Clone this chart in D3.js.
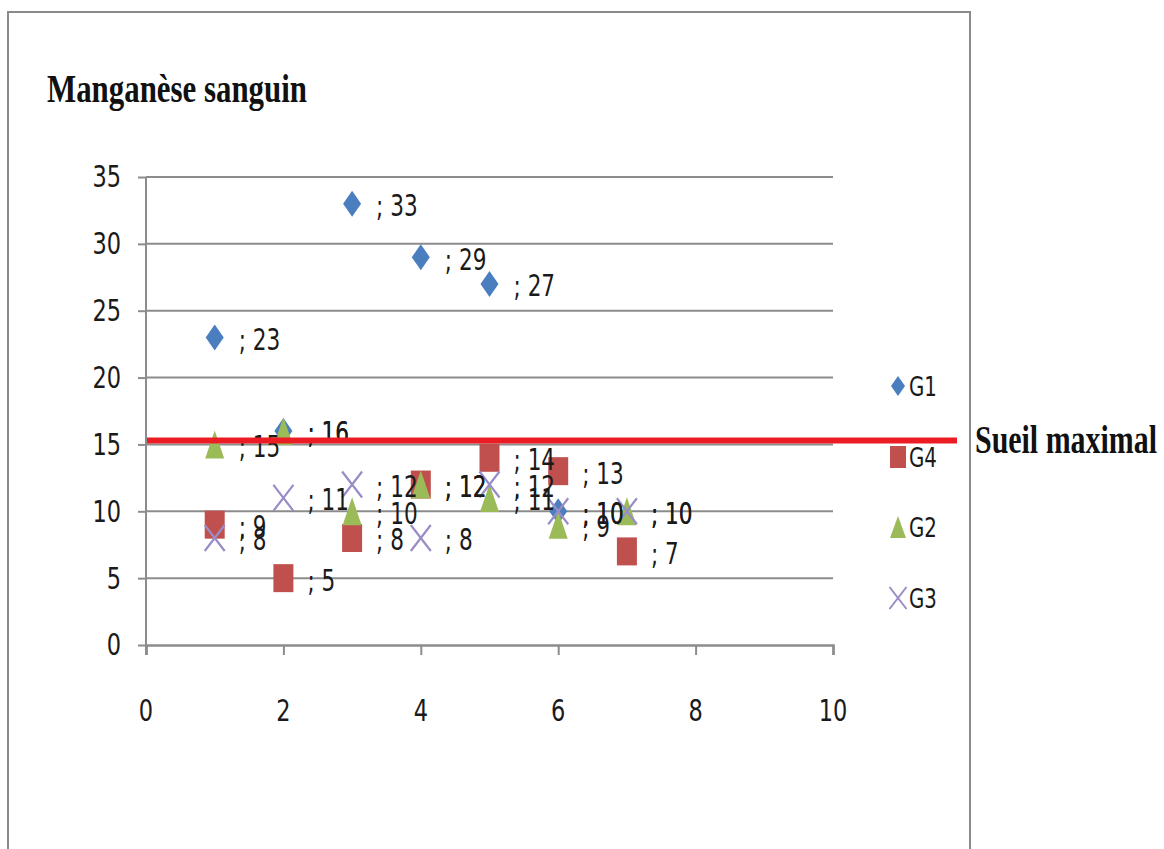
<!DOCTYPE html>
<html>
<head>
<meta charset="utf-8">
<script src="https://cdn.jsdelivr.net/npm/d3@7"></script>
<style>
  html, body { margin: 0; padding: 0; background: #fff; }
  svg { display: block; }
</style>
</head>
<body>
<svg id="chart" width="1164" height="849"></svg>
<script>
// ---- data ----
const title = "Manganèse sanguin";
const thresholdLabel = "Sueil maximal";
const threshold = 15.3;
const xTicks = [0, 2, 4, 6, 8, 10];
const yTicks = [0, 5, 10, 15, 20, 25, 30, 35];
const g1X = [1, 2, 3, 4, 5, 6];
const g1Y = [23, 16, 33, 29, 27, 10];
const g4X = [1, 2, 3, 4, 5, 6, 7];
const g4Y = [9, 5, 8, 12, 14, 13, 7];
const g2X = [1, 2, 3, 4, 5, 6, 7];
const g2Y = [15, 16, 10, 12, 11, 9, 10];
const g3X = [1, 2, 3, 4, 5, 6, 7];
const g3Y = [8, 11, 12, 8, 12, 10, 10];
const seriesNames = ["G1", "G4", "G2", "G3"];

// ---- setup ----
const svg = d3.select("#chart");
const x = d3.scaleLinear().domain([0, 10]).range([146, 833]);
const y = d3.scaleLinear().domain([0, 35]).range([645, 177]);
const SY = 1.22; // vertical stretch of the reference
const sansFont = "'Liberation Sans Narrow', 'DejaVu Sans Condensed', 'Liberation Sans', sans-serif";
const serifFont = "'Liberation Serif', 'DejaVu Serif', serif";

function stretchedText(parent, tx, ty, str, opts) {
  const g = parent.append("g").attr("transform", `translate(${tx},${ty}) scale(1,${opts.sy || SY})`);
  const t = g.append("text")
    .attr("x", 0).attr("y", 0)
    .attr("dominant-baseline", "central")
    .attr("text-anchor", opts.anchor || "start")
    .attr("font-family", opts.font || sansFont)
    .attr("font-size", opts.size || 24)
    .attr("font-weight", opts.weight || "normal")
    .attr("fill", opts.fill || "#1a1a1a")
    .text(str);
  if (opts.textLength) t.attr("textLength", opts.textLength).attr("lengthAdjust", "spacingAndGlyphs");
  return t;
}

// outer frame
svg.append("rect").attr("x", 8).attr("y", 12).attr("width", 962).attr("height", 860)
  .attr("fill", "none").attr("stroke", "#8a8a8a").attr("stroke-width", 2);

// title
stretchedText(svg, 47, 88, title, {font: serifFont, size: 31, weight: "bold", sy: 1.32, fill: "#111", textLength: 260});

// gridlines
svg.append("g").selectAll("line").data(yTicks.filter(d => d > 0)).join("line")
  .attr("x1", x(0)).attr("x2", x(10))
  .attr("y1", d => y(d)).attr("y2", d => y(d))
  .attr("stroke", "#8c8c8c").attr("stroke-width", 2);

// y axis
const yAxis = d3.axisLeft(y).tickValues(yTicks).tickSize(8).tickFormat("");
const yG = svg.append("g").attr("transform", `translate(${x(0)},0)`).call(yAxis);
yG.select(".domain").remove();
yG.selectAll(".tick line").attr("stroke", "#8c8c8c").attr("stroke-width", 2);
svg.append("line").attr("x1", x(0)).attr("x2", x(0)).attr("y1", y(35)).attr("y2", y(0) + 10)
  .attr("stroke", "#8c8c8c").attr("stroke-width", 2);
yTicks.forEach(v => stretchedText(svg, 121, y(v), String(v), {anchor: "end", size: 25}));

// x axis
const xAxis = d3.axisBottom(x).tickValues(xTicks).tickSize(10).tickFormat("");
const xG = svg.append("g").attr("transform", `translate(0,${y(0)})`).call(xAxis);
xG.select(".domain").attr("stroke", "#8c8c8c").attr("stroke-width", 2.5);
xG.selectAll(".tick line").attr("stroke", "#8c8c8c").attr("stroke-width", 2);
xTicks.forEach(v => stretchedText(svg, x(v), 711, String(v), {anchor: "middle", size: 25}));

// marker shapes (vertically stretched like the reference)
const shapes = {
  G1: {color: "#4a7ebf", path: (w=18, h=26) => `M0,${-h/2}L${w/2},0L0,${h/2}L${-w/2},0Z`, fill: true},
  G4: {color: "#c0504d", path: (w=20, h=28) => `M${-w/2},${-h/2}H${w/2}V${h/2}H${-w/2}Z`, fill: true},
  G2: {color: "#9bbb59", path: (w=19, h=28) => `M0,${-h/2}L${w/2},${h/2}H${-w/2}Z`, fill: true},
  G3: {color: "#9a8cc6", path: (w=20, h=26) => `M${-w/2},${-h/2}L${w/2},${h/2}M${w/2},${-h/2}L${-w/2},${h/2}`, fill: false}
};

const seriesData = {
  G1: g1X.map((d, i) => ({x: d, y: g1Y[i]})),
  G4: g4X.map((d, i) => ({x: d, y: g4Y[i]})),
  G2: g2X.map((d, i) => ({x: d, y: g2Y[i]})),
  G3: g3X.map((d, i) => ({x: d, y: g3Y[i]}))
};

const marksG = svg.append("g");
seriesNames.forEach(name => {
  const s = shapes[name];
  marksG.append("g").selectAll("path").data(seriesData[name]).join("path")
    .attr("transform", d => `translate(${x(d.x)},${y(d.y)})`)
    .attr("d", s.path())
    .attr("fill", s.fill ? s.color : "none")
    .attr("stroke", s.fill ? "none" : s.color)
    .attr("stroke-width", 2.2);
});

// data labels
const labG = svg.append("g");
seriesNames.forEach(name => {
  seriesData[name].forEach(d => {
    stretchedText(labG, x(d.x) + 24, y(d.y) + 2, "; " + d.y, {size: 24});
  });
});

// threshold line
svg.append("line").attr("x1", x(0) + 1).attr("x2", 957)
  .attr("y1", y(threshold)).attr("y2", y(threshold))
  .attr("stroke", "#ec1c24").attr("stroke-width", 6);
stretchedText(svg, 975, y(threshold), thresholdLabel, {font: serifFont, size: 30, weight: "bold", sy: 1.3, fill: "#111", textLength: 182});

// legend
const legendY = [386, 457, 527, 598];
seriesNames.forEach((name, i) => {
  const s = shapes[name];
  const small = {G1: [14, 20], G4: [16, 22], G2: [16, 22], G3: [17, 22]}[name];
  svg.append("path")
    .attr("transform", `translate(898,${legendY[i]})`)
    .attr("d", s.path(small[0], small[1]))
    .attr("fill", s.fill ? s.color : "none")
    .attr("stroke", s.fill ? "none" : s.color)
    .attr("stroke-width", 2);
  stretchedText(svg, 909, legendY[i] + 1, name, {size: 22});
});
</script>
</body>
</html>
